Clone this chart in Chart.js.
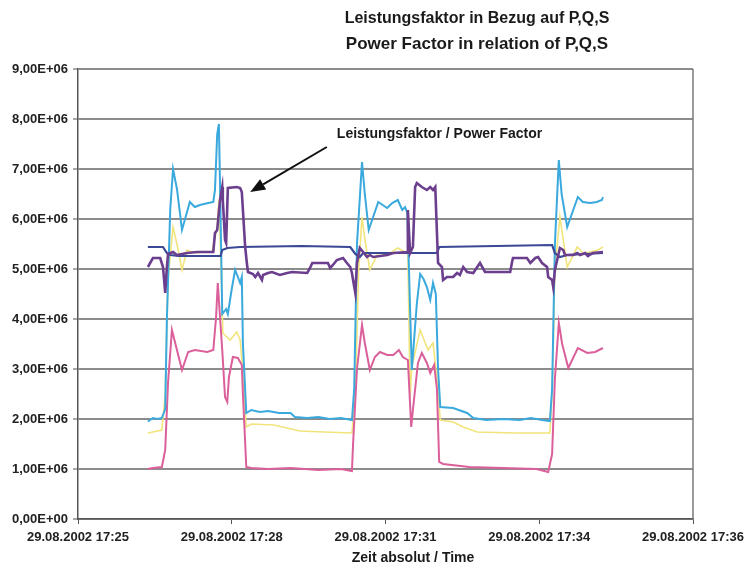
<!DOCTYPE html>
<html>
<head>
<meta charset="utf-8">
<script src="https://cdn.jsdelivr.net/npm/chart.js@4/dist/chart.umd.min.js"></script>
<style>
    html, body { margin: 0; padding: 0; background: #ffffff; }
    #chart { display: block; }
</style>
</head>
<body>
<canvas id="chart" width="748" height="567"></canvas>
<script>
    // time in minutes after 29.08.2002 17:25, values in units of 1E+06
    var xTickValues = [0, 2.75, 5.5, 8.25, 11];
    var xTickLabels = ['29.08.2002 17:25', '29.08.2002 17:28', '29.08.2002 17:31', '29.08.2002 17:34', '29.08.2002 17:36'];
    var titleLines = ['Leistungsfaktor in Bezug auf P,Q,S', 'Power Factor in relation of P,Q,S'];
    var xAxisTitle = 'Zeit absolut / Time';
    var noteText = 'Leistungsfaktor / Power Factor';
    var noteAnchor = [4.63, 7.70];
    var arrowFrom = [4.45, 7.44];
    var arrowTo = [3.08, 6.54];

    // S (light blue)
    var sTimes = [1.25, 1.34, 1.42, 1.50, 1.56, 1.59, 1.65, 1.70, 1.77, 1.86, 2.00, 2.09, 2.18, 2.33, 2.42, 2.45, 2.49, 2.52, 2.54, 2.58,
        2.65, 2.68, 2.75, 2.81, 2.86, 2.90, 2.93, 2.95, 3.01, 3.10, 3.25, 3.40, 3.60, 3.80, 3.88, 4.10, 4.30, 4.50, 4.70, 4.90,
        4.94, 4.99, 5.08, 5.13, 5.20, 5.37, 5.53, 5.62, 5.72, 5.80, 5.85, 5.89, 5.92, 5.97, 6.06, 6.12, 6.18, 6.24, 6.30, 6.35,
        6.40, 6.44, 6.48, 6.71, 6.96, 7.07, 7.30, 7.60, 7.90, 8.10, 8.30, 8.44, 8.48, 8.53, 8.60, 8.65, 8.75, 8.94, 9.03, 9.16,
        9.28, 9.37, 9.39];
    var sValues = [1.95, 2.02, 2.00, 2.02, 2.2, 4.0, 6.2, 7.0, 6.6, 5.78, 6.34, 6.24, 6.28, 6.32, 6.34, 6.58, 7.7, 7.9, 6.7, 4.1,
        4.2, 4.1, 4.6, 4.98, 4.84, 4.72, 4.84, 3.5, 2.12, 2.18, 2.14, 2.16, 2.12, 2.12, 2.04, 2.02, 2.04, 2.0, 2.02, 1.98,
        2.6, 5.5, 7.14, 6.5, 5.78, 6.34, 6.22, 6.32, 6.38, 6.18, 6.24, 6.12, 5.0, 2.98, 4.3, 4.9, 4.8, 4.64, 4.38, 4.72,
        4.5, 3.0, 2.24, 2.22, 2.12, 2.02, 1.98, 2.0, 1.98, 2.02, 1.98, 1.96, 2.6, 5.5, 7.18, 6.5, 5.84, 6.44, 6.34, 6.32,
        6.34, 6.38, 6.44];

    // Q (yellow)
    var qTimes = [1.25, 1.34, 1.50, 1.56, 1.61, 1.70, 1.77, 1.86, 1.95, 2.04, 2.13, 2.24, 2.40, 2.49, 2.52, 2.56, 2.59, 2.72, 2.84, 2.90,
        2.93, 3.01, 3.10, 3.50, 3.97, 4.40, 4.90, 4.96, 5.02, 5.08, 5.13, 5.22, 5.37, 5.53, 5.72, 5.85, 5.90, 5.94, 5.97, 6.12,
        6.17, 6.26, 6.35, 6.42, 6.48, 6.71, 6.89, 7.14, 7.80, 8.44, 8.48, 8.53, 8.62, 8.75, 8.93, 9.03, 9.16, 9.30, 9.39];
    var qValues = [1.72, 1.74, 1.78, 2.5, 4.8, 5.84, 5.5, 4.98, 5.38, 5.34, 5.32, 5.34, 5.34, 5.84, 6.38, 5.0, 3.72, 3.58, 3.74, 3.58,
        3.2, 1.84, 1.9, 1.88, 1.76, 1.74, 1.72, 2.5, 5.0, 6.04, 5.6, 4.98, 5.32, 5.28, 5.42, 5.34, 5.3, 2.44, 3.04, 3.78,
        3.64, 3.38, 3.52, 2.8, 1.98, 1.94, 1.84, 1.74, 1.72, 1.72, 2.5, 5.0, 6.04, 5.04, 5.44, 5.32, 5.34, 5.38, 5.44];

    // P (pink)
    var pTimes = [1.25, 1.34, 1.50, 1.56, 1.61, 1.68, 1.77, 1.86, 1.97, 2.09, 2.31, 2.42, 2.47, 2.50, 2.54, 2.58, 2.63, 2.67, 2.70, 2.77,
        2.86, 2.93, 2.95, 3.01, 3.10, 3.40, 3.80, 4.30, 4.70, 4.90, 4.92, 4.99, 5.08, 5.13, 5.22, 5.31, 5.40, 5.53, 5.64, 5.74,
        5.81, 5.90, 5.96, 5.99, 6.08, 6.15, 6.24, 6.30, 6.37, 6.42, 6.46, 6.53, 7.00, 7.60, 8.20, 8.41, 8.48, 8.53, 8.60, 8.66,
        8.77, 8.94, 9.11, 9.25, 9.39];
    var pValues = [1.0, 1.02, 1.04, 1.38, 2.72, 3.78, 3.38, 2.98, 3.34, 3.38, 3.34, 3.38, 4.04, 4.72, 4.04, 3.38, 2.44, 2.34, 2.84, 3.24,
        3.22, 3.08, 2.5, 1.04, 1.02, 1.0, 1.02, 0.98, 1.0, 0.96, 1.5, 3.0, 3.88, 3.52, 2.98, 3.24, 3.34, 3.28, 3.28, 3.38,
        3.24, 3.18, 1.84, 2.18, 3.12, 3.32, 3.12, 2.92, 3.08, 2.6, 1.14, 1.1, 1.04, 1.02, 1.0, 0.94, 1.3, 2.8, 3.92, 3.5,
        3.02, 3.42, 3.32, 3.34, 3.42];

    // dark blue line
    var nTimes = [1.25, 1.52, 1.59, 1.65, 1.80, 2.20, 2.55, 2.58, 2.67, 2.90, 4.00, 4.87, 4.96, 5.04, 5.10, 6.42, 6.46, 8.48, 8.53, 8.62, 8.75, 9.39];
    var nValues = [5.44, 5.44, 5.32, 5.28, 5.26, 5.26, 5.26, 5.38, 5.42, 5.44, 5.46, 5.44, 5.3, 5.24, 5.32, 5.32, 5.44, 5.48, 5.32, 5.24, 5.28, 5.32];

    // Leistungsfaktor / power factor (purple)
    var fTimes = [1.25, 1.34, 1.47, 1.52, 1.56, 1.59, 1.61, 1.70, 1.77, 1.95, 2.13, 2.42, 2.45, 2.49, 2.54, 2.58, 2.59, 2.63, 2.65, 2.68,
        2.84, 2.90, 2.93, 2.99, 3.02, 3.04, 3.13, 3.17, 3.22, 3.29, 3.31, 3.40, 3.47, 3.61, 3.74, 3.83, 4.10, 4.15, 4.19, 4.47,
        4.51, 4.56, 4.63, 4.74, 4.81, 4.87, 4.90, 4.92, 4.96, 4.99, 5.04, 5.10, 5.17, 5.22, 5.28, 5.53, 5.64, 5.89, 5.90, 5.94,
        5.99, 6.03, 6.06, 6.15, 6.24, 6.30, 6.35, 6.39, 6.44, 6.51, 6.53, 6.60, 6.71, 6.78, 6.83, 6.89, 6.96, 7.07, 7.14, 7.19,
        7.28, 7.73, 7.76, 7.78, 8.03, 8.09, 8.18, 8.23, 8.30, 8.39, 8.41, 8.48, 8.50, 8.53, 8.57, 8.62, 8.68, 8.71, 8.86, 8.93,
        8.98, 9.07, 9.12, 9.21, 9.39];
    var fValues = [5.04, 5.22, 5.22, 5.04, 4.52, 5.04, 5.3, 5.34, 5.28, 5.32, 5.34, 5.34, 5.72, 5.78, 6.38, 6.64, 6.38, 5.58, 5.52, 6.62,
        6.64, 6.62, 6.54, 5.44, 5.12, 4.94, 4.9, 4.84, 4.92, 4.78, 4.88, 4.92, 4.94, 4.88, 4.92, 4.94, 4.92, 5.02, 5.12, 5.12,
        5.02, 5.08, 5.18, 5.22, 5.12, 5.04, 4.92, 4.78, 4.52, 5.12, 5.42, 5.34, 5.24, 5.28, 5.24, 5.28, 5.32, 5.34, 6.18, 5.32,
        5.44, 6.64, 6.72, 6.64, 6.58, 6.64, 6.58, 6.64, 5.12, 5.04, 4.78, 4.84, 4.84, 4.92, 4.88, 5.04, 4.94, 4.92, 5.04, 5.12,
        4.94, 4.94, 5.12, 5.22, 5.22, 5.12, 5.22, 5.24, 5.12, 5.04, 4.84, 4.78, 4.64, 4.98, 5.18, 5.42, 5.38, 5.28, 5.28, 5.32,
        5.28, 5.32, 5.26, 5.32, 5.34];

    var sansFont = '"Liberation Sans", Arial, sans-serif';
    var narrowFont = '"Liberation Sans Narrow", "Arial Narrow", ' + sansFont;

    // use the narrow face when it is installed, otherwise a smaller regular one
    function hasNarrow() {
        var c = document.createElement('canvas').getContext('2d');
        c.font = 'bold 16px "Liberation Sans Narrow", monospace';
        var a = c.measureText('29.08.2002 17:25').width;
        c.font = 'bold 16px monospace';
        var b = c.measureText('29.08.2002 17:25').width;
        return Math.abs(a - b) > 0.5;
    }
    var tickFont = hasNarrow() ? { family: narrowFont, size: 16, weight: 'bold' } : { family: sansFont, size: 13, weight: 'bold' };

    function toPoints(times, values) {
        var ret = [];
        for (var i = 0; i < times.length; i++) {
            ret.push({ x: times[i], y: values[i] });
        }
        return ret;
    }

    function makeLine(label, times, values, color, width, order) {
        return {
            label: label,
            data: toPoints(times, values),
            borderColor: color,
            backgroundColor: color,
            borderWidth: width,
            pointRadius: 0,
            tension: 0,
            fill: false,
            order: order
        };
    }

    var decorations = {
        id: 'decorations',
        beforeDraw: function (chart) {
            var c = chart.ctx;
            c.save();
            c.fillStyle = '#ffffff';
            c.fillRect(0, 0, chart.width, chart.height);
            c.restore();
        },
        afterDraw: function (chart) {
            var c = chart.ctx;
            var area = chart.chartArea;
            var xs = chart.scales.x;
            var ys = chart.scales.y;
            c.save();

            // right frame of the plot area
            c.strokeStyle = '#7a7a7a';
            c.lineWidth = 1.5;
            c.beginPath();
            c.moveTo(area.right, area.top);
            c.lineTo(area.right, area.bottom);
            c.stroke();

            // titles
            c.fillStyle = '#1a1a1a';
            c.textAlign = 'center';
            c.textBaseline = 'middle';
            c.font = 'bold 16px ' + sansFont;
            c.fillText(titleLines[0], 477, 19);
            c.font = 'bold 17px ' + sansFont;
            c.fillText(titleLines[1], 477, 44);

            // x axis title
            c.font = 'bold 14px ' + sansFont;
            c.fillText(xAxisTitle, 413, 558);

            // note with arrow
            c.textAlign = 'left';
            c.font = 'bold 14px ' + sansFont;
            c.fillText(noteText, xs.getPixelForValue(noteAnchor[0]), ys.getPixelForValue(noteAnchor[1]));

            var x0 = xs.getPixelForValue(arrowFrom[0]);
            var y0 = ys.getPixelForValue(arrowFrom[1]);
            var x1 = xs.getPixelForValue(arrowTo[0]);
            var y1 = ys.getPixelForValue(arrowTo[1]);
            var ang = Math.atan2(y1 - y0, x1 - x0);
            var len = 15;
            var half = 6;
            var bx = x1 - len * Math.cos(ang);
            var by = y1 - len * Math.sin(ang);
            c.strokeStyle = '#111111';
            c.lineWidth = 2;
            c.beginPath();
            c.moveTo(x0, y0);
            c.lineTo(bx, by);
            c.stroke();
            c.fillStyle = '#111111';
            c.beginPath();
            c.moveTo(x1, y1);
            c.lineTo(bx + half * Math.sin(ang), by - half * Math.cos(ang));
            c.lineTo(bx - half * Math.sin(ang), by + half * Math.cos(ang));
            c.closePath();
            c.fill();

            c.restore();
        }
    };

    var ctx = document.getElementById('chart').getContext('2d');
    var chart = new Chart(ctx, {
        type: 'line',
        data: {
            datasets: [
                makeLine('Leistungsfaktor', fTimes, fValues, '#6b3e8e', 2.6, 0),
                makeLine('Power Factor 2', nTimes, nValues, '#3b4896', 2.2, 1),
                makeLine('S', sTimes, sValues, '#3aa9dd', 2, 2),
                makeLine('P', pTimes, pValues, '#da5f9b', 2, 3),
                makeLine('Q', qTimes, qValues, '#f2e47c', 1.6, 4)
            ]
        },
        options: {
            responsive: false,
            devicePixelRatio: 1,
            animation: false,
            layout: {
                padding: { left: 0, right: 55, top: 69, bottom: 0 }
            },
            plugins: {
                legend: { display: false },
                title: { display: false },
                tooltip: { enabled: false }
            },
            scales: {
                x: {
                    type: 'linear',
                    min: 0,
                    max: 11,
                    afterBuildTicks: function (scale) {
                        scale.ticks = xTickValues.map(function (v) { return { value: v }; });
                    },
                    afterFit: function (scale) {
                        scale.height = 48;
                        // let the layout padding decide the right edge
                        scale.paddingLeft = 0;
                        scale.paddingRight = 0;
                    },
                    ticks: {
                        autoSkip: false,
                        maxRotation: 0,
                        padding: 6,
                        color: '#222222',
                        font: tickFont,
                        callback: function (value, index) {
                            return xTickLabels[index];
                        }
                    },
                    grid: {
                        drawOnChartArea: false,
                        drawTicks: true,
                        tickLength: 5,
                        tickColor: '#555555',
                        tickWidth: 1
                    },
                    border: { color: '#555555', width: 1.5 }
                },
                y: {
                    min: 0,
                    max: 9,
                    afterFit: function (scale) {
                        scale.width = 78;
                    },
                    ticks: {
                        stepSize: 1,
                        padding: 5,
                        color: '#222222',
                        font: tickFont,
                        callback: function (value) {
                            if (value === 0) return '0,00E+00';
                            return value.toFixed(2).replace('.', ',') + 'E+06';
                        }
                    },
                    grid: {
                        color: '#8c8c8c',
                        lineWidth: 2,
                        tickLength: 5,
                        tickColor: '#555555',
                        tickWidth: 1
                    },
                    border: { color: '#555555', width: 1.5 }
                }
            }
        },
        plugins: [decorations]
    });
</script>
</body>
</html>
